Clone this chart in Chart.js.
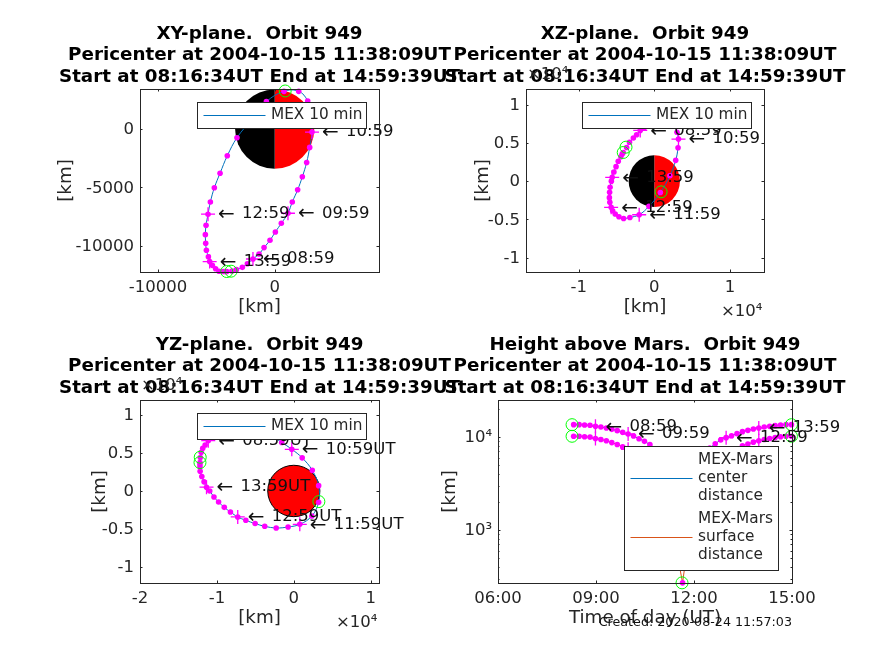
<!DOCTYPE html>
<html>
<head>
<meta charset="utf-8">
<style>
  html, body { margin: 0; padding: 0; background: #fff; }
  canvas { position: absolute; left: 0; top: 0; }
</style>
<script src="https://cdn.jsdelivr.net/npm/chart.js@4"></script>
</head>
<body>
<canvas id="xy" width="874" height="655"></canvas>
<canvas id="xz" width="874" height="655"></canvas>
<canvas id="yz" width="874" height="655"></canvas>
<canvas id="height" width="874" height="655"></canvas>
<script>
// samples along the orbit, every 10 minutes (km)
const times = ['08:19','08:29','08:39','08:49','08:59','09:09','09:19','09:29','09:39','09:49','09:59',
  '10:09','10:19','10:29','10:39','10:49','10:59','11:09','11:19','11:29','11:39','11:49','11:59',
  '12:09','12:19','12:29','12:39','12:49','12:59','13:09','13:19','13:29','13:39','13:49','13:59',
  '14:09','14:19','14:29','14:39','14:49','14:59'];
const orbitX = [-3660,-3280,-2770,-2340,-1860,-1340,-910,-400,60,570,1140,
  1510,1970,2370,2740,3000,3200,3140,2830,2060,800,-710,-2000,
  -3230,-4060,-4680,-5170,-5510,-5710,-5880,-5940,-5910,-5850,-5680,-5570,
  -5340,-5060,-4770,-4430,-4250,-4110];
const orbitY = [-12160,-12040,-11840,-11530,-11125,-10700,-10150,-9520,-8810,-8070,-7210,
  -6240,-5200,-4090,-2860,-1570,-260,1090,2400,3230,3230,2345,780,
  -740,-2290,-3780,-5030,-6240,-7290,-8240,-9040,-9780,-10380,-10930,-11350,
  -11670,-11960,-12180,-12200,-12200,-12200];
const orbitZ = [4400,5100,5640,6070,6640,7000,7400,7700,7900,8000,8000,
  7900,7700,7630,7240,6400,5500,4370,2720,700,-1480,-3300,-4400,
  -4750,-4880,-4660,-4300,-3870,-3430,-2770,-2160,-1450,-800,0,500,
  1200,1900,2600,3200,3550,3750];
const centerDist = [13570,13570,13460,13360,13020,12800,12495,12090,11700,11220,10770,
  10250,9590,8980,8270,7250,6330,5470,4640,3950,3660,4120,4950,
  5780,6770,7620,8450,9300,9840,10330,10860,11410,11790,12190,12495,
  12800,13020,13240,13460,13570,13570];
const surfaceDist = [10180,10180,10070,9970,9630,9410,9105,8700,8310,7830,7380,
  6860,6200,5590,4880,3860,2940,2080,1250,560,270,730,1560,
  2390,3380,4230,5060,5910,6450,6940,7470,8020,8400,8800,9105,
  9410,9630,9850,10070,10180,10180];

// hours that get a cross and a label
const hourTimes = ['08:59','09:59','10:59','11:59','12:59','13:59'];

// start, pericenter, end
const markTimes = ['08:16','11:38','14:59'];
const markX = [-3740,900,-4110];
const markY = [-12170,3260,-12200];
const markZ = [4450,-1400,3750];
const markCenter = [13570,3660,13570];
const markSurface = [10180,270,10180];

const marsRadius = 3390;
const orbitTitle = ['Pericenter at 2004-10-15 11:38:09UT', 'Start at 08:16:34UT End at 14:59:39UT'];
const xyTicksX = [-10000,0];
const xyTicksY = [-10000,-5000,0];
const e4TicksXZ = [-10000,0,10000];
const e4TicksY = [-10000,-5000,0,5000,10000];
const e4TicksYZ = [-20000,-10000,0,10000];
const hourTicks = [360,540,720,900];
const logTicks = [300,400,500,600,700,800,900,1000,2000,3000,4000,5000,6000,7000,8000,9000,10000,20000];

const FONT = '"DejaVu Sans"';
const INK = '#262626';
const BLUE = '#0072BD';
const ORANGE = '#D95319';
const MAGENTA = '#ff00ff';
const GREEN = '#00ff00';

function toMinutes(t) {
  const p = t.split(':');
  return +p[0] * 60 + +p[1];
}
function points(xs, ys) {
  return xs.map((x, i) => ({ x: x, y: ys[i] }));
}
function hourly(list) {
  return list.filter((v, i) => hourTimes.includes(times[i]));
}

// marks for one curve, first dataset ends up on top
function orbitSets(xs, ys, mx, my, color, tension) {
  return [
    { data: points(mx, my), showLine: false, pointStyle: 'circle', pointRadius: 6, pointBackgroundColor: 'transparent', pointBorderColor: GREEN, pointBorderWidth: 1, clip: false },
    { data: points(hourly(xs), hourly(ys)), showLine: false, pointStyle: 'cross', pointRadius: 7, pointBorderColor: MAGENTA, pointBorderWidth: 1.3, clip: false },
    { data: points(xs, ys), showLine: false, pointStyle: 'circle', pointRadius: 2.8, pointBackgroundColor: MAGENTA, pointBorderColor: MAGENTA, pointBorderWidth: 0, clip: false },
    { data: points(xs, ys), showLine: true, borderColor: color, borderWidth: 1, pointRadius: 0, tension: tension, clip: false }
  ];
}

function decorPlugin(p) {
  return {
    id: 'decor',
    beforeDatasetsDraw(chart) {
      if (!p.disk) return;
      const { ctx, scales: { x, y } } = chart;
      const cx = x.getPixelForValue(0), cy = y.getPixelForValue(0);
      const rx = Math.abs(x.getPixelForValue(marsRadius) - cx);
      const ry = Math.abs(y.getPixelForValue(marsRadius) - cy);
      ctx.save();
      ctx.fillStyle = '#ff0000';
      ctx.beginPath();
      if (p.disk === 'half') {
        ctx.ellipse(cx, cy, rx, ry, 0, -Math.PI / 2, Math.PI / 2);
      } else {
        ctx.ellipse(cx, cy, rx, ry, 0, 0, Math.PI * 2);
      }
      ctx.fill();
      if (p.disk === 'half') {
        ctx.fillStyle = '#000';
        ctx.beginPath();
        ctx.ellipse(cx, cy, rx, ry, 0, Math.PI / 2, Math.PI * 1.5);
        ctx.fill();
      } else {
        ctx.strokeStyle = '#000';
        ctx.lineWidth = 1;
        ctx.stroke();
      }
      ctx.restore();
    },
    afterDatasetsDraw(chart) {
      const { ctx, chartArea: a, scales: { x, y } } = chart;
      ctx.save();
      ctx.textBaseline = 'middle';

      // hour labels
      ctx.fillStyle = '#111';
      ctx.textAlign = 'left';
      p.notes.forEach(n => {
        const px = x.getPixelForValue(n.x), py = y.getPixelForValue(n.y);
        ctx.font = '20px ' + FONT;
        ctx.fillText('←', px + 10, py + 1);
        ctx.font = '16.5px ' + FONT;
        ctx.fillText(n.text, px + 34, py);
      });

      // legend box
      const l = p.legend;
      ctx.fillStyle = '#fff';
      ctx.strokeStyle = INK;
      ctx.lineWidth = 1;
      ctx.fillRect(l.x, l.y, l.w, l.h);
      ctx.strokeRect(l.x, l.y, l.w, l.h);
      ctx.font = '15.3px ' + FONT;
      l.rows.forEach(r => {
        ctx.strokeStyle = r.color;
        ctx.beginPath();
        ctx.moveTo(l.x + 6, r.y);
        ctx.lineTo(l.x + 68, r.y);
        ctx.stroke();
        ctx.fillStyle = INK;
        r.lines.forEach((t, i) => ctx.fillText(t, l.x + 73.5, r.y + (i - (r.lines.length - 1) / 2) * 18));
      });

      // axes box with ticks pointing inwards
      ctx.strokeStyle = INK;
      ctx.lineWidth = 1;
      ctx.strokeRect(Math.round(a.left) + 0.5, Math.round(a.top) + 0.5, Math.round(a.width), Math.round(a.height));
      ctx.beginPath();
      x.ticks.forEach(t => {
        const px = Math.round(x.getPixelForValue(t.value)) + 0.5;
        ctx.moveTo(px, a.bottom); ctx.lineTo(px, a.bottom - 2.5);
        ctx.moveTo(px, a.top); ctx.lineTo(px, a.top + 2.5);
      });
      y.ticks.forEach(t => {
        const py = Math.round(y.getPixelForValue(t.value)) + 0.5;
        const len = t.label ? 2.5 : 1.5;
        ctx.moveTo(a.left, py); ctx.lineTo(a.left + len, py);
        ctx.moveTo(a.right, py); ctx.lineTo(a.right - len, py);
      });
      ctx.stroke();

      // titles
      ctx.fillStyle = '#000';
      ctx.textAlign = 'center';
      ctx.font = 'bold 18.3px ' + FONT;
      const mid = (a.left + a.right) / 2;
      p.title.forEach((t, i) => ctx.fillText(t, mid, a.top - 55 + i * 21.5));

      // axis labels
      ctx.fillStyle = INK;
      ctx.font = '18.3px ' + FONT;
      ctx.fillText(p.xLabel, mid, a.bottom + 35);
      ctx.save();
      ctx.translate(p.yLabelX, (a.top + a.bottom) / 2);
      ctx.rotate(-Math.PI / 2);
      ctx.fillText('[km]', 0, 0);
      ctx.restore();

      if (p.exp) {
        ctx.font = '16.5px ' + FONT;
        ctx.textAlign = 'left';
        if (p.exp.x) ctx.fillText('×10⁴', a.right - 43, a.bottom + 40);
        if (p.exp.y) ctx.fillText('×10⁴', a.left + 1, a.top - 14);
      }
      if (p.footer) {
        ctx.fillStyle = '#111';
        ctx.font = '12.7px ' + FONT;
        ctx.textAlign = 'right';
        ctx.fillText(p.footer, a.right, a.bottom + 40);
      }
      ctx.restore();
    }
  };
}

function axis(opts, ticks, label, reserved, shift) {
  return Object.assign({
    grid: { display: false, drawTicks: false },
    border: { display: false },
    // fixed size so the plot box lands where the layout wants it
    afterFit: scale => {
      scale.paddingLeft = scale.paddingRight = scale.paddingTop = scale.paddingBottom = 0;
      if (scale.isHorizontal()) scale.height = reserved; else scale.width = reserved;
    },
    afterBuildTicks: s => { s.ticks = ticks.map(v => ({ value: v })); },
    ticks: { autoSkip: false, maxRotation: 0, padding: 6, labelOffset: shift, color: INK, font: { family: FONT, size: 16.5 }, callback: label }
  }, opts);
}

function drawPanel(id, p) {
  new Chart(document.getElementById(id), {
    type: 'scatter',
    data: { datasets: p.datasets },
    options: {
      responsive: false,
      animation: false,
      events: [],
      layout: { padding: { left: 0, top: p.box[1], right: 874 - p.box[2], bottom: 0 } },
      plugins: { legend: { display: false }, tooltip: { enabled: false }, title: { display: false } },
      scales: {
        x: axis(p.x.opts, p.x.ticks, p.x.label, 655 - p.box[3], 0),
        y: axis(p.y.opts, p.y.ticks, p.y.label, p.box[0], 1)
      }
    },
    plugins: [decorPlugin(p)]
  });
}

const plain = v => String(v);
const e4 = v => String(v / 10000);
const clock = v => String(Math.floor(v / 60)).padStart(2, '0') + ':00';
const power = v => (v === 1000 ? '10³' : v === 10000 ? '10⁴' : '');

function notes(xs, ys, suffix) {
  return hourly(times).map((t, i) => ({ x: hourly(xs)[i], y: hourly(ys)[i], text: t + suffix }));
}

drawPanel('xy', {
  box: [140, 89, 379, 272],
  title: ['XY-plane.  Orbit 949'].concat(orbitTitle),
  xLabel: '[km]', yLabelX: 66, disk: 'half',
  datasets: orbitSets(orbitX, orbitY, markX, markY, BLUE, 0.4),
  notes: notes(orbitX, orbitY, ''),
  legend: { x: 197.5, y: 102.5, w: 169, h: 26, rows: [{ y: 115.5, color: BLUE, lines: ['MEX 10 min'] }] },
  x: { opts: { type: 'linear', min: -11540, max: 8940 }, ticks: xyTicksX, label: plain },
  y: { opts: { type: 'linear', min: -12240, max: 3430 }, ticks: xyTicksY, label: plain }
});

drawPanel('xz', {
  box: [526, 89, 764, 272],
  title: ['XZ-plane.  Orbit 949'].concat(orbitTitle),
  xLabel: '[km]', yLabelX: 483, disk: 'half', exp: { x: true, y: true },
  datasets: orbitSets(orbitX, orbitZ, markX, markZ, BLUE, 0.4),
  notes: notes(orbitX, orbitZ, ''),
  legend: { x: 582.5, y: 102.5, w: 169, h: 26, rows: [{ y: 115.5, color: BLUE, lines: ['MEX 10 min'] }] },
  x: { opts: { type: 'linear', min: -16970, max: 14510 }, ticks: e4TicksXZ, label: e4 },
  y: { opts: { type: 'linear', min: -11890, max: 12060 }, ticks: e4TicksY, label: e4 }
});

drawPanel('yz', {
  box: [140, 400, 379, 583],
  title: ['YZ-plane.  Orbit 949'].concat(orbitTitle),
  xLabel: '[km]', yLabelX: 100, disk: 'full', exp: { x: true, y: true },
  datasets: orbitSets(orbitY, orbitZ, markY, markZ, BLUE, 0.4),
  notes: notes(orbitY, orbitZ, 'UT'),
  legend: { x: 197.5, y: 413.5, w: 169, h: 26, rows: [{ y: 426.5, color: BLUE, lines: ['MEX 10 min'] }] },
  x: { opts: { type: 'linear', min: -20000, max: 11080 }, ticks: e4TicksYZ, label: e4 },
  y: { opts: { type: 'linear', min: -12140, max: 12000 }, ticks: e4TicksY, label: e4 }
});

const minutes = times.map(toMinutes);
const markMinutes = markTimes.map(toMinutes);

drawPanel('height', {
  box: [498, 400, 792, 583],
  title: ['Height above Mars.  Orbit 949'].concat(orbitTitle),
  xLabel: 'Time of day (UT)', yLabelX: 450,
  footer: 'Created: 2020-08-24 11:57:03',
  datasets: orbitSets(minutes, centerDist, markMinutes, markCenter, BLUE, 0)
    .concat(orbitSets(minutes, surfaceDist, markMinutes, markSurface, ORANGE, 0)),
  notes: notes(minutes, centerDist, ''),
  legend: { x: 624.5, y: 446.5, w: 154, h: 124, rows: [
    { y: 478.5, color: BLUE, lines: ['MEX-Mars', 'center', 'distance'] },
    { y: 537.5, color: ORANGE, lines: ['MEX-Mars', 'surface', 'distance'] }
  ] },
  x: { opts: { type: 'linear', min: 360, max: 900 }, ticks: hourTicks, label: clock },
  y: { opts: { type: 'logarithmic', min: 269, max: 25000 }, ticks: logTicks, label: power }
});
</script>
</body>
</html>
